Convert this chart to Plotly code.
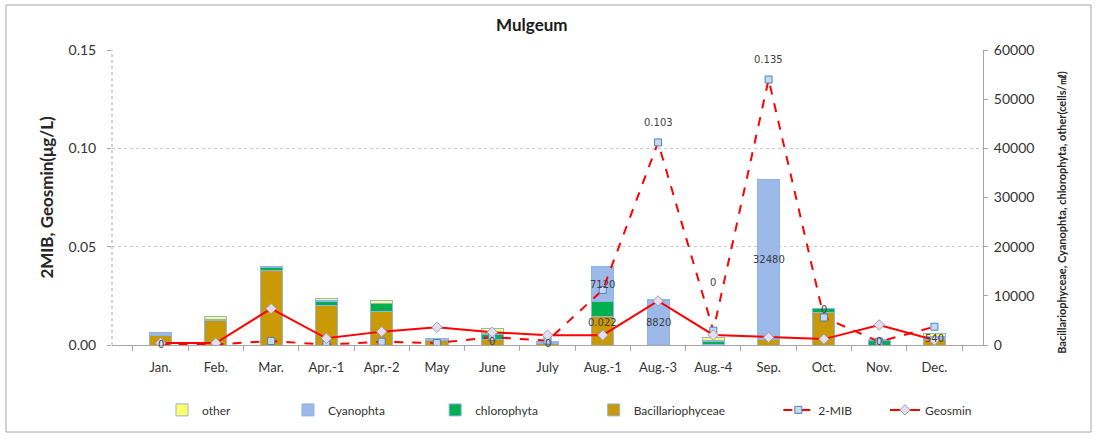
import plotly.graph_objects as go

categories = ["Jan.", "Feb.", "Mar.", "Apr.-1", "Apr.-2", "May", "June", "July",
              "Aug.-1", "Aug.-3", "Aug.-4", "Sep.", "Oct.", "Nov.", "Dec."]

# cells/mL (right axis)
bacillariophyceae = [1890, 5080, 15240, 8130, 6850, 900, 1200, 400, 5810, 0, 100, 1220, 6570, 0, 1100]
chlorophyta = [100, 0, 500, 800, 1560, 0, 900, 0, 2990, 200, 550, 0, 890, 900, 0]
cyanophyta = [470, 200, 300, 200, 100, 450, 300, 400, 7120, 8820, 250, 32480, 0, 200, 540]
other = [0, 470, 0, 350, 450, 0, 1000, 0, 0, 200, 700, 0, 0, 0, 700]

# ug/L (left axis)
mib2 = [0.0005, 0.0003, 0.002, 0.0002, 0.0017, 0.001, 0.004, 0.0022, 0.028, 0.103,
        0.0073, 0.135, 0.014, 0.0017, 0.0093]
geosmin = [0.001, 0.001, 0.0185, 0.0034, 0.0068, 0.009, 0.0065, 0.005, 0.005, 0.0224,
           0.0051, 0.0039, 0.003, 0.0102, 0.0025]

# data labels as they appear in the original chart
mib_label_cats = ["Aug.-3", "Sep."]
cyan_label_cats = ["Aug.-1", "Aug.-3", "Sep.", "Dec."]
misc_label_cats = ["Aug.-1", "Jan.", "June", "July", "Aug.-4", "Oct.", "Nov."]
misc_label_texts = ["0.022", "0", "0", "0", "0", "0", "0"]
misc_label_vals = [0.0112, 0.0005, 0.002, 0.001, 0.032, 0.0178, 0.002]

FONT = "Lato"
BAR_LINE = dict(color="#8EB4E3", width=1)

fig = go.Figure()
bar_specs = [
    ("Bacillariophyceae", bacillariophyceae, "#C99A06", "legend4"),
    ("chlorophyta", chlorophyta, "#00B050", "legend3"),
    ("Cyanophta", cyanophyta, "#9CB9EA", "legend2"),
    ("other", other, "#FFFF66", "legend"),
]
for name, vals, color, lg in bar_specs:
    fig.add_trace(go.Bar(x=categories, y=vals, name=name, yaxis="y",
                         marker=dict(color=color, line=BAR_LINE), legend=lg))

fig.add_trace(go.Scatter(x=categories, y=mib2, name="2-MIB", yaxis="y2", mode="lines+markers",
                         line=dict(color="#FF0000", width=2, dash="dash"),
                         marker=dict(symbol="square", size=7, color="#C6D9F1",
                                     line=dict(color="#4F81BD", width=1)),
                         legend="legend5"))
fig.add_trace(go.Scatter(x=categories, y=geosmin, name="Geosmin", yaxis="y2", mode="lines+markers",
                         line=dict(color="#FF0000", width=2),
                         marker=dict(symbol="diamond", size=8, color="#E4DFEC",
                                     line=dict(color="#9A9AB8", width=1)),
                         legend="legend6"))

annotations = []
lab_font = dict(family="DejaVu Sans", size=10, color="#404040")
for c in mib_label_cats:
    i = categories.index(c)
    annotations.append(dict(x=c, y=mib2[i], xref="x", yref="y2", text=f"{mib2[i]:.3f}",
                            showarrow=False, yshift=20, font=lab_font))
for c in cyan_label_cats:
    i = categories.index(c)
    mid = bacillariophyceae[i] + chlorophyta[i] + cyanophyta[i] / 2
    annotations.append(dict(x=c, y=mid, xref="x", yref="y", text=str(cyanophyta[i]),
                            showarrow=False, font=lab_font))
for c, t, v in zip(misc_label_cats, misc_label_texts, misc_label_vals):
    annotations.append(dict(x=c, y=v, xref="x", yref="y2", text=t, showarrow=False, font=lab_font))

# axis titles
annotations.append(dict(x=-0.09, y=0.5, xref="paper", yref="paper", textangle=-90,
                        text="2MIB, Geosmin(μg/L)", showarrow=False,
                        font=dict(family=FONT, size=17, color="#262626", weight="bold")))
annotations.append(dict(x=1.1, y=0.45, xref="paper", yref="paper", textangle=-90,
                        text="Bacillariophyceae, Cyanophta, chlorophyta, other(cells/㎖)",
                        showarrow=False,
                        font=dict(family=FONT, size=11, color="#262626", weight="bold")))

leg_font = dict(family=FONT, size=12, color="#333333")
legend_x = {"legend": 0.0574, "legend2": 0.202, "legend3": 0.371,
            "legend4": 0.553, "legend5": 0.765, "legend6": 0.8875}
legends = {}
for k, xv in legend_x.items():
    legends[k] = dict(x=xv, y=-0.22, xanchor="left", yanchor="middle", orientation="h",
                      font=leg_font, bgcolor="rgba(0,0,0,0)", itemwidth=30)

fig.update_layout(
    width=1098, height=439,
    margin=dict(l=112, r=115, t=50, b=94),
    paper_bgcolor="white", plot_bgcolor="white",
    barmode="stack", bargap=0.6,
    showlegend=True,
    title=dict(text="Mulgeum", x=0.482, xref="paper", xanchor="center",
               y=1 - 25 / 439, yanchor="middle",
               font=dict(family=FONT, size=17, color="#1a1a1a", weight="bold")),
    xaxis=dict(type="category", categoryorder="array", categoryarray=categories,
               showline=True, linecolor="#A6A6A6", linewidth=1,
               ticks="outside", tickson="boundaries", ticklen=5, tickcolor="#A6A6A6",
               ticklabelstandoff=10,
               tickfont=dict(family=FONT, size=13, color="#333333"), showgrid=False),
    yaxis=dict(side="right", range=[0, 60000], dtick=10000, tickformat="d", showgrid=False,
               showline=True, linecolor="#A6A6A6", ticks="outside", ticklen=4,
               tickcolor="#A6A6A6", zeroline=False, ticklabelstandoff=3,
               tickfont=dict(family=FONT, size=14, color="#333333")),
    yaxis2=dict(overlaying="y", side="left", range=[0, 0.15], dtick=0.05, tickformat=".2f",
                showgrid=True, gridcolor="#C8C8C8", griddash="dot", gridwidth=1,
                showline=False, ticks="outside", ticklen=4, tickcolor="#A6A6A6",
                zeroline=False, ticklabelstandoff=8,
                tickfont=dict(family=FONT, size=14, color="#333333")),
    annotations=annotations,
    shapes=[
        dict(type="line", xref="paper", yref="paper", x0=0, x1=0, y0=0, y1=1,
             line=dict(color="#A6A6A6", width=1, dash="dot")),
        dict(type="rect", xref="paper", yref="paper", x0=-0.1217, x1=1.124,
             y0=-0.295, y1=1.1525, line=dict(color="#A6A6A6", width=1)),
    ],
    **legends,
)

fig.write_html("out.html", config={"displayModeBar": False},
               post_script="document.body.style.margin='0';document.body.style.overflow='hidden';")
